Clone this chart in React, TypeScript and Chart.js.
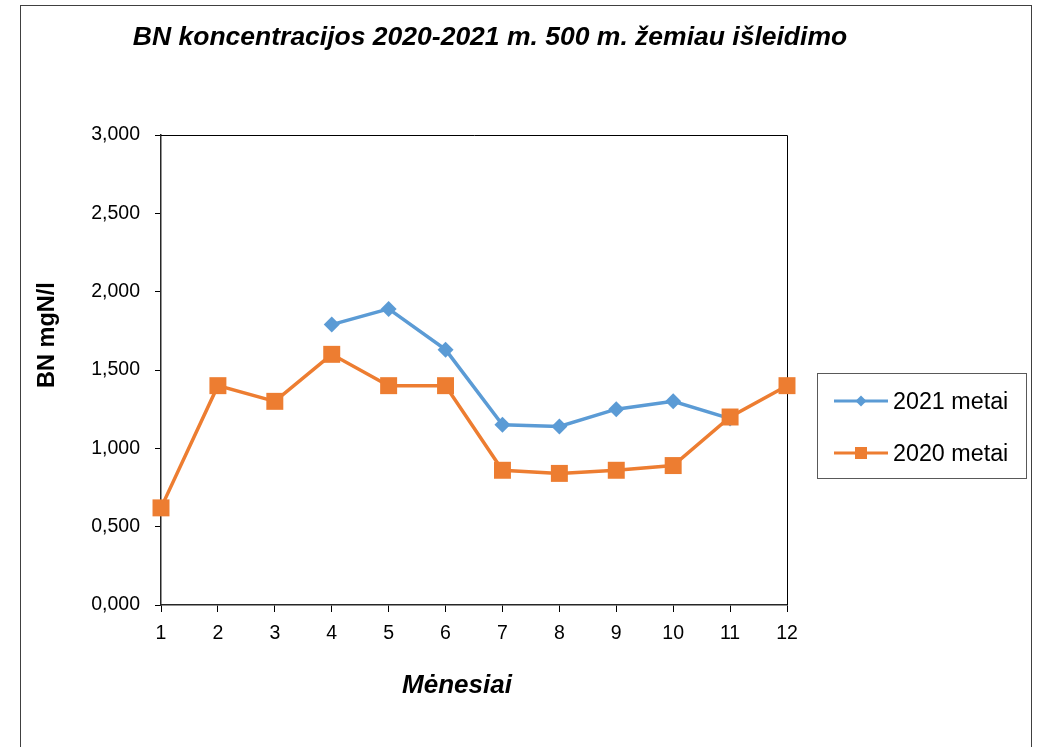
import React, { useEffect, useRef } from 'react';
import { Chart, registerables } from 'chart.js';

Chart.register(...registerables);

const months = ['1', '2', '3', '4', '5', '6', '7', '8', '9', '10', '11', '12'];
const series2021: (number | null)[] = [null, null, null, 1.79, 1.89, 1.63, 1.15, 1.14, 1.25, 1.3, 1.19, null];
const series2020: number[] = [0.62, 1.4, 1.3, 1.6, 1.4, 1.4, 0.86, 0.84, 0.86, 0.89, 1.2, 1.4];
const yTickValues = [0, 0.5, 1, 1.5, 2, 2.5, 3];
const labels2021 = '2021 metai';
const labels2020 = '2020 metai';
const chartTitle = 'BN koncentracijos 2020-2021 m. 500 m. žemiau išleidimo';
const yAxisTitle = 'BN mgN/l';
const xAxisTitle = 'Mėnesiai';

const BLUE = '#5B9BD5';
const ORANGE = '#ED7D31';
const FONT = '"Liberation Sans", Arial, sans-serif';

const decorPlugin = {
  id: 'decor',
  beforeDatasetsDraw(chart: any) {
    const { ctx, chartArea } = chart;
    ctx.save();
    ctx.strokeStyle = '#000000';
    ctx.lineWidth = 1;
    ctx.beginPath();
    ctx.moveTo(chartArea.left, chartArea.top + 0.5);
    ctx.lineTo(chartArea.right + 0.5, chartArea.top + 0.5);
    ctx.lineTo(chartArea.right + 0.5, chartArea.bottom);
    ctx.stroke();
    ctx.restore();
  },
  afterDraw(chart: any) {
    const { ctx } = chart;
    ctx.save();
    // outer border
    ctx.strokeStyle = '#404040';
    ctx.lineWidth = 1;
    ctx.strokeRect(20.5, 5.5, 1011, 780);

    // title
    ctx.fillStyle = '#000000';
    ctx.font = `bold italic 26.5px ${FONT}`;
    ctx.textAlign = 'center';
    ctx.textBaseline = 'alphabetic';
    ctx.fillText(chartTitle, 490, 45);

    // x title
    ctx.font = `bold italic 26px ${FONT}`;
    ctx.fillText(xAxisTitle, 457, 693);

    // y title
    ctx.save();
    ctx.translate(54, 335);
    ctx.rotate(-Math.PI / 2);
    ctx.font = `bold 23.5px ${FONT}`;
    ctx.fillText(yAxisTitle, 0, 0);
    ctx.restore();

    // legend box
    ctx.strokeStyle = '#595959';
    ctx.strokeRect(817.5, 373.5, 209, 105);

    const items = [
      { label: labels2021, color: BLUE, style: 'diamond', y: 401 },
      { label: labels2020, color: ORANGE, style: 'square', y: 453 },
    ];
    items.forEach((it) => {
      ctx.strokeStyle = it.color;
      ctx.lineWidth = 3;
      ctx.beginPath();
      ctx.moveTo(834, it.y);
      ctx.lineTo(888, it.y);
      ctx.stroke();
      ctx.fillStyle = it.color;
      if (it.style === 'diamond') {
        ctx.beginPath();
        ctx.moveTo(861 - 5.5, it.y);
        ctx.lineTo(861, it.y - 5.5);
        ctx.lineTo(861 + 5.5, it.y);
        ctx.lineTo(861, it.y + 5.5);
        ctx.closePath();
        ctx.fill();
      } else {
        ctx.fillRect(855, it.y - 6, 12, 12);
      }
      ctx.fillStyle = '#000000';
      ctx.font = `23.3px ${FONT}`;
      ctx.textAlign = 'left';
      ctx.textBaseline = 'alphabetic';
      ctx.fillText(it.label, 893, it.y + 7.5);
    });
    ctx.restore();
  },
};

export default function App() {
  const canvasRef = useRef<HTMLCanvasElement | null>(null);

  useEffect(() => {
    const canvas = canvasRef.current;
    if (!canvas) return;
    const chart = new Chart(canvas, {
      type: 'line',
      data: {
        labels: months,
        datasets: [
          {
            label: labels2021,
            data: series2021,
            borderColor: BLUE,
            backgroundColor: BLUE,
            borderWidth: 3.5,
            pointStyle: 'rectRot',
            pointRadius: 8,
            pointBorderWidth: 0,
            pointBackgroundColor: BLUE,
            tension: 0,
            clip: false as any,
            order: 1,
          },
          {
            label: labels2020,
            data: series2020,
            borderColor: ORANGE,
            backgroundColor: ORANGE,
            borderWidth: 3.5,
            pointStyle: 'rect',
            pointRadius: 12,
            pointBorderWidth: 0,
            pointBackgroundColor: ORANGE,
            tension: 0,
            clip: false as any,
            order: 0,
          },
        ],
      },
      options: {
        responsive: false,
        animation: false,
        devicePixelRatio: 1,
        layout: { padding: { left: 0, top: 135, right: 253, bottom: 0 } },
        plugins: {
          legend: { display: false },
          title: { display: false },
          tooltip: { enabled: false },
        },
        scales: {
          x: {
            type: 'category',
            offset: false,
            grid: {
              drawOnChartArea: false,
              drawTicks: true,
              tickLength: 7,
              tickColor: '#000000',
            },
            border: { display: true, color: '#262626', width: 1.5 },
            ticks: {
              color: '#000000',
              font: { family: FONT, size: 19.5 },
              padding: 10,
              maxRotation: 0,
              autoSkip: false,
            },
            afterFit: (scale: any) => {
              scale.height = 142;
            },
          },
          y: {
            type: 'linear',
            min: 0,
            max: 3,
            grid: {
              drawOnChartArea: false,
              drawTicks: true,
              tickLength: 6,
              tickColor: '#000000',
            },
            border: { display: true, color: '#262626', width: 1.5 },
            ticks: {
              color: '#000000',
              font: { family: FONT, size: 19.5 },
              padding: 15,
              callback: (v: any) => Number(v).toFixed(3).replace('.', ','),
            },
            afterBuildTicks: (scale: any) => {
              scale.ticks = yTickValues.map((v) => ({ value: v }));
            },
            afterFit: (scale: any) => {
              scale.width = 161;
            },
          },
        },
      },
      plugins: [decorPlugin],
    });
    return () => chart.destroy();
  }, []);

  return (
    <div style={{ position: 'fixed', left: 0, top: 0, width: 1040, height: 747, background: '#ffffff' }}>
      <canvas ref={canvasRef} width={1040} height={747} style={{ display: 'block', width: 1040, height: 747 }} />
    </div>
  );
}
